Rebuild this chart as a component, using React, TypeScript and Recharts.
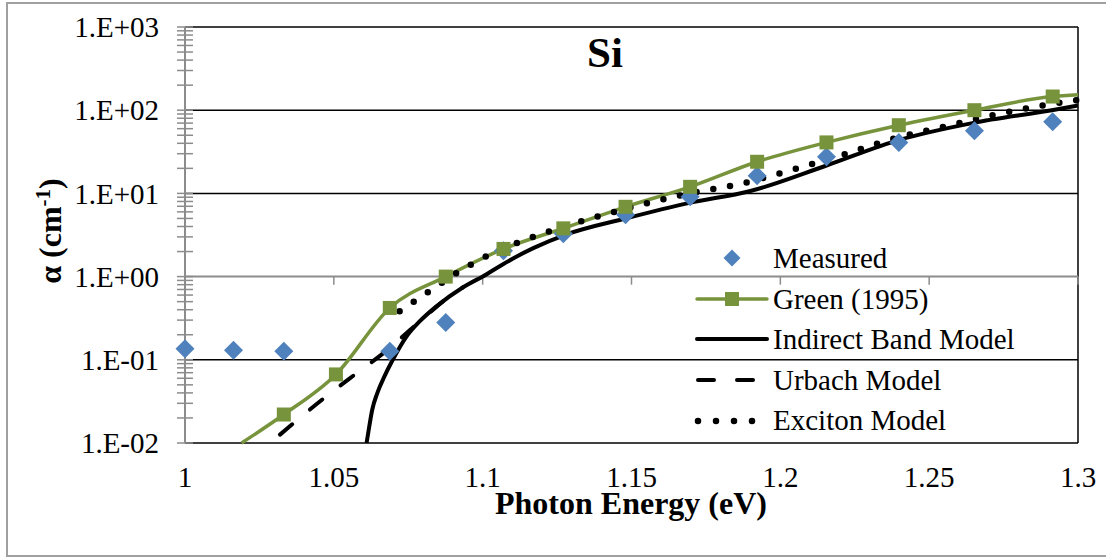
import { CartesianGrid, ComposedChart, Legend, Line, ReferenceLine, Scatter, XAxis, YAxis } from 'recharts'

const FONT = "'Liberation Serif', 'Times New Roman', serif"
const GREEN = '#77933c'
const BLUE = '#4f81bd'
const AXIS_GRAY = '#8c8c8c'

const energyTicks = [1, 1.05, 1.1, 1.15, 1.2, 1.25, 1.3]
const decades = [0.01, 0.1, 1, 10, 100, 1000]
const minorSteps = [2, 3, 4, 5, 6, 7, 8, 9]

// measured points, 20 nm steps from 1240 nm down to 960 nm
const measuredEnergy = [1.0, 1.0163, 1.0332, 1.0688, 1.0876, 1.107, 1.1271, 1.148, 1.1697, 1.1922, 1.2155, 1.2398, 1.2652, 1.2915]
const measuredAlpha = [0.136, 0.13, 0.127, 0.127, 0.28, 2.05, 3.28, 5.55, 9.1, 16.3, 27.5, 41, 56.6, 72.6]

// Green (1995) table; first and last entries are where the curve leaves the plot
const greenEnergy = [1.019, 1.0332, 1.0507, 1.0688, 1.0876, 1.107, 1.1271, 1.148, 1.1697, 1.1922, 1.2155, 1.2398, 1.2652, 1.2915, 1.3]
const greenAlpha = [0.01, 0.022, 0.0667, 0.42, 1.0, 2.15, 3.8, 6.9, 12, 24, 41, 66, 100, 146, 153]

const indirectEnergy = [1.061, 1.0619, 1.0629, 1.0646, 1.067, 1.0698, 1.0744, 1.0789, 1.0845, 1.0933, 1.1012, 1.1067, 1.117, 1.128, 1.148, 1.1695, 1.1896, 1.2153, 1.24, 1.2645, 1.2912, 1.3]
const indirectAlpha = [0.01, 0.0158, 0.0251, 0.0398, 0.0631, 0.1, 0.19, 0.291, 0.44, 0.74, 1.06, 1.4, 2.2, 3.2, 5.0, 7.7, 10.6, 21.5, 44, 70, 100, 114]

const urbachEnergy = [1.0319, 1.047, 1.058, 1.0671, 1.0761, 1.0889, 1.0933]
const urbachAlpha = [0.0126, 0.0353, 0.0705, 0.124, 0.236, 0.58, 0.74]

const excitonEnergy = [1.0721, 1.0817, 1.0917, 1.1017, 1.1181, 1.1349, 1.152, 1.1688, 1.1869, 1.204, 1.2208, 1.2376, 1.2547, 1.2718, 1.2893, 1.3]
const excitonAlpha = [0.384, 0.655, 1.13, 1.79, 3.1, 4.83, 7.1, 9.9, 13.1, 19.2, 29, 45, 63, 88, 116, 133]

function zip(xs: number[], ys: number[]) {
    return xs.map((x, i) => ({ x, y: ys[i] }))
}

const measured = zip(measuredEnergy, measuredAlpha)
const green = zip(greenEnergy, greenAlpha)
const indirect = zip(indirectEnergy, indirectAlpha)
const urbach = zip(urbachEnergy, urbachAlpha)
const exciton = zip(excitonEnergy, excitonAlpha)

const yTicks = [
    ...decades,
    ...decades.slice(0, -1).flatMap((d) => minorSteps.map((m) => m * d)),
].sort((a, b) => a - b)

function isDecade(v: number) {
    const l = Math.log10(v)
    return Math.abs(l - Math.round(l)) < 1e-9
}

function formatPow(v: number) {
    const e = Math.round(Math.log10(v))
    return `1.E${e < 0 ? '-' : '+'}${String(Math.abs(e)).padStart(2, '0')}`
}

function AlphaTick(props: any) {
    const { x, y, payload } = props
    const v = payload.value
    return (
        <g>
            <line x1={x - 8} x2={x + 8} y1={y} y2={y} stroke={AXIS_GRAY} strokeWidth={1.5} />
            {isDecade(v) && (
                <text x={x - 26} y={y} dy="0.355em" textAnchor="end" fill="#000" fontSize={29} fontFamily={FONT}>
                    {formatPow(v)}
                </text>
            )}
        </g>
    )
}

function Diamond(props: any) {
    const { cx, cy } = props
    if (cx == null || cy == null) return <g />
    const r = 9.5
    return <path d={`M${cx},${cy - r}L${cx + r},${cy}L${cx},${cy + r}L${cx - r},${cy}Z`} fill={BLUE} />
}

function renderGreenSquare(props: any) {
    const { cx, cy, index } = props
    // the first and last table entries are the curve's exits from the plot, no marker there
    if (cx == null || cy == null || index === 0 || index === green.length - 1) return <g key={`sq-${index}`} />
    return <rect key={`sq-${index}`} x={cx - 7} y={cy - 7} width={14} height={14} fill={GREEN} />
}

const legendRows = [
    { name: 'Measured', kind: 'diamond' },
    { name: 'Green (1995)', kind: 'green' },
    { name: 'Indirect Band Model', kind: 'solid' },
    { name: 'Urbach Model', kind: 'dash' },
    { name: 'Exciton Model', kind: 'dot' },
]

function LegendIcon({ kind }: { kind: string }) {
    return (
        <svg width={83} height={40} style={{ display: 'block' }}>
            {kind === 'diamond' && <path d="M42,11.5L50.5,20L42,28.5L33.5,20Z" fill={BLUE} />}
            {kind === 'green' && (
                <>
                    <line x1={7} x2={77} y1={20} y2={20} stroke={GREEN} strokeWidth={3.5} strokeLinecap="round" />
                    <rect x={35} y={13} width={14} height={14} fill={GREEN} />
                </>
            )}
            {kind === 'solid' && <line x1={7} x2={77} y1={20} y2={20} stroke="#000" strokeWidth={4} strokeLinecap="round" />}
            {kind === 'dash' && (
                <line x1={8} x2={70} y1={20} y2={20} stroke="#000" strokeWidth={4} strokeLinecap="round" strokeDasharray="16 23" />
            )}
            {kind === 'dot' && (
                <line x1={8} x2={65} y1={20} y2={20} stroke="#000" strokeWidth={6.5} strokeLinecap="round" strokeDasharray="0 18" />
            )}
        </svg>
    )
}

function renderLegend() {
    return (
        <div style={{ fontFamily: FONT, fontSize: 29, color: '#000' }}>
            {legendRows.map((row) => (
                <div key={row.name} style={{ display: 'flex', alignItems: 'center', height: 40.6, lineHeight: '40.6px', whiteSpace: 'nowrap' }}>
                    <LegendIcon kind={row.kind} />
                    <span>{row.name}</span>
                </div>
            ))}
        </div>
    )
}

export default function App() {
    return (
        <div style={{ position: 'absolute', left: 0, top: 0, width: 1106, height: 557, background: '#fff', overflow: 'hidden' }}>
            <div
                style={{
                    position: 'absolute',
                    left: 6,
                    top: 2,
                    width: 1110,
                    height: 551,
                    borderTop: '2px solid #a0a0a0',
                    borderLeft: '2px solid #a0a0a0',
                    borderBottom: '2px solid #a0a0a0',
                }}
            />
            <div style={{ position: 'absolute', left: 0, top: 0 }}>
                <ComposedChart width={1106} height={557} margin={{ top: 27, right: 28, left: 0, bottom: 0 }}>
                    <CartesianGrid stroke="#000" strokeWidth={1.5} horizontalValues={[0.01, 0.1, 10, 100, 1000]} verticalValues={[1.3]} />
                    <CartesianGrid stroke={AXIS_GRAY} strokeWidth={2} vertical={false} horizontalValues={[1]} />
                    <XAxis
                        type="number"
                        dataKey="x"
                        domain={[1, 1.3]}
                        ticks={energyTicks}
                        interval={0}
                        tickFormatter={(v) => String(v)}
                        tickSize={0}
                        tickMargin={23}
                        axisLine={false}
                        tickLine={false}
                        height={114}
                        tick={{ fill: '#000', fontSize: 29, fontFamily: FONT }}
                    />
                    <YAxis
                        type="number"
                        dataKey="y"
                        scale="log"
                        domain={[0.01, 1000]}
                        ticks={yTicks}
                        interval={0}
                        tick={<AlphaTick />}
                        tickSize={0}
                        tickMargin={0}
                        tickLine={false}
                        axisLine={{ stroke: AXIS_GRAY, strokeWidth: 2 }}
                        width={185}
                    />
                    {energyTicks.slice(1).map((t) => (
                        <ReferenceLine
                            key={t}
                            segment={[
                                { x: t, y: 1 },
                                { x: t, y: 0.8 },
                            ]}
                            stroke={AXIS_GRAY}
                            strokeWidth={1.5}
                        />
                    ))}
                    <Line data={green} dataKey="y" type="monotone" stroke={GREEN} strokeWidth={3.5} dot={renderGreenSquare} activeDot={false} isAnimationActive={false} />
                    <Line data={indirect} dataKey="y" type="monotone" stroke="#000" strokeWidth={4} dot={false} activeDot={false} isAnimationActive={false} />
                    <Line
                        data={urbach}
                        dataKey="y"
                        type="monotone"
                        stroke="#000"
                        strokeWidth={4}
                        strokeDasharray="16 23"
                        strokeLinecap="round"
                        dot={false}
                        activeDot={false}
                        isAnimationActive={false}
                    />
                    <Line
                        data={exciton}
                        dataKey="y"
                        type="monotone"
                        stroke="#000"
                        strokeWidth={6.5}
                        strokeDasharray="0 17"
                        strokeLinecap="round"
                        dot={false}
                        activeDot={false}
                        isAnimationActive={false}
                    />
                    <Scatter data={measured} dataKey="y" shape={<Diamond />} isAnimationActive={false} />
                    <Legend
                        content={renderLegend}
                        layout="vertical"
                        align="center"
                        verticalAlign="middle"
                        wrapperStyle={{ left: 690, top: 238, width: 400, height: 205 }}
                    />
                </ComposedChart>
            </div>
            <svg width={1106} height={557} style={{ position: 'absolute', left: 0, top: 0, pointerEvents: 'none' }}>
                <text x={605} y={67} textAnchor="middle" fontFamily={FONT} fontWeight="bold" fontSize={43}>
                    Si
                </text>
                <text x={631} y={514} textAnchor="middle" fontFamily={FONT} fontWeight="bold" fontSize={32}>
                    Photon Energy (eV)
                </text>
                <text transform="translate(61,231) rotate(-90)" textAnchor="middle" fontFamily={FONT} fontWeight="bold" fontSize={32}>
                    α (cm
                    <tspan dy={-11} fontSize={21}>
                        -1
                    </tspan>
                    <tspan dy={11}>)</tspan>
                </text>
            </svg>
        </div>
    )
}
